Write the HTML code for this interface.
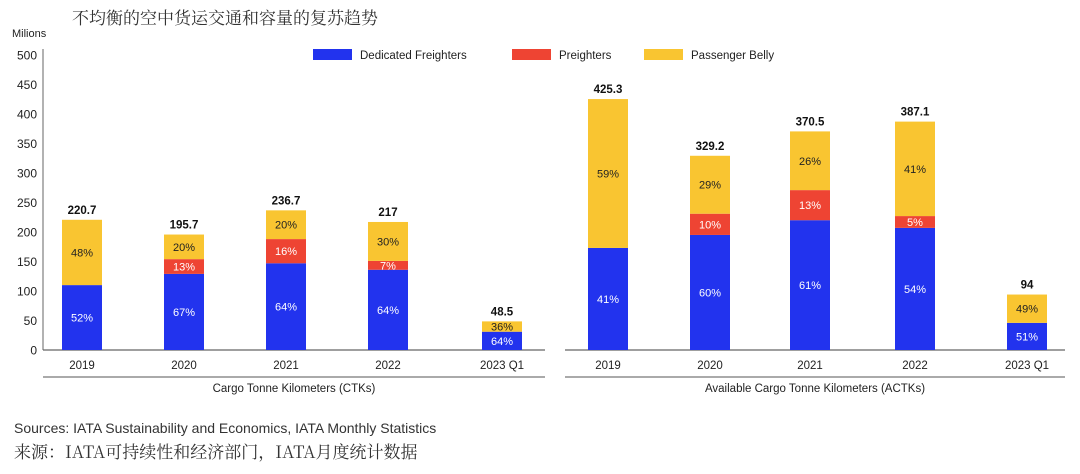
<!DOCTYPE html>
<html><head><meta charset="utf-8">
<style>
body{margin:0;background:#fff;width:1080px;height:474px;overflow:hidden;position:relative;font-family:"Liberation Sans","Noto Sans CJK SC",sans-serif}
.t{position:absolute;white-space:nowrap}
</style></head><body>
<div class="t" style="left:72px;top:4px;font-size:17px;color:#333;font-family:'Noto Serif CJK SC','Noto Sans CJK SC',serif">不均衡的空中货运交通和容量的复苏趋势</div>
<div class="t" style="left:14px;top:420px;font-size:14px;color:#333">Sources: IATA Sustainability and Economics, IATA Monthly Statistics</div>
<div class="t" style="left:14px;top:438px;font-size:17px;color:#333;font-family:'Noto Serif CJK SC','Noto Sans CJK SC',serif">来源：IATA可持续性和经济部门，IATA月度统计数据</div>
<svg id="c" width="1080" height="474" style="position:absolute;left:0;top:0"></svg>
<script>
const categories=["2019","2020","2021","2022","2023 Q1"];
const ctkBlue=[110,129,147,136,31];
const ctkRed=[0,25,41,15,0];
const ctkTotal=[220.7,195.7,236.7,217,48.5];
const ctkTotalLabels=["220.7","195.7","236.7","217","48.5"];
const ctkPctBlue=["52%","67%","64%","64%","64%"];
const ctkPctRed=["","13%","16%","7%",""];
const ctkPctYellow=["48%","20%","20%","30%","36%"];
const actkBlue=[173,195,220,207,46];
const actkRed=[0,36,51,20,0];
const actkTotal=[425.3,329.2,370.5,387.1,94];
const actkTotalLabels=["425.3","329.2","370.5","387.1","94"];
const actkPctBlue=["41%","60%","61%","54%","51%"];
const actkPctRed=["","10%","13%","5%",""];
const actkPctYellow=["59%","29%","26%","41%","49%"];
const yTicks=[0,50,100,150,200,250,300,350,400,450,500];

const svg=document.getElementById('c');const NS='http://www.w3.org/2000/svg';
function el(tag,attrs,parent){const e=document.createElementNS(NS,tag);for(const k in attrs)e.setAttribute(k,attrs[k]);(parent||svg).appendChild(e);return e;}
const y0=350,yTop=55;
function y(v){return y0-(v/500)*(y0-yTop);}
const BLUE="#2233ee",RED="#ee4433",YEL="#f9c531";
// y axis
for(const t of yTicks){const tx=el('text',{x:37,y:y(t)+4.5,'text-anchor':'end','font-size':12,fill:'#222'});tx.textContent=t;

}
const yl=el('text',{x:12,y:37,'font-size':11,fill:'#222'});yl.textContent='Milions';


const ya=el('line',{x1:43,y1:y(500)-6,x2:43,y2:y0,stroke:'#666','stroke-width':1});



function panel(x0,x1,centers,blue,red,total,tl,pb,pr,py,title,name){
  const base=el('line',{x1:x0,y1:y0,x2:x1,y2:y0,stroke:'#666','stroke-width':1.2});
  
  
  const sep=el('line',{x1:x0,y1:377,x2:x1,y2:377,stroke:'#777','stroke-width':1.2});
  
  
  const tt=el('text',{x:(x0+x1)/2,y:392,'text-anchor':'middle','font-size':11.5,fill:'#222'});tt.textContent=title;
  
  
  const w=40;
  categories.forEach((c,i)=>{
    const cx=centers[i],bx=cx-w/2;
    const yb=y(blue[i]),yr=y(blue[i]+red[i]),yt=y(total[i]);
    const r1=el('rect',{x:bx,y:yb,width:w,height:y0-yb,fill:BLUE});
    
    
    if(red[i]>0){const r2=el('rect',{x:bx,y:yr,width:w,height:yb-yr,fill:RED});
    
    }
    const r3=el('rect',{x:bx,y:yt,width:w,height:yr-yt,fill:YEL});
    
    
    const lb=el('text',{x:cx,y:(yb+y0)/2+4,'text-anchor':'middle','font-size':11,fill:'#fff'});lb.textContent=pb[i];
    
    
    if(pr[i]){const lr=el('text',{x:cx,y:(yr+yb)/2+4,'text-anchor':'middle','font-size':11,fill:'#fff'});lr.textContent=pr[i];
    
    }
    const ly=el('text',{x:cx,y:(yt+yr)/2+4,'text-anchor':'middle','font-size':11,fill:'#222'});ly.textContent=py[i];
    
    
    const tv=el('text',{x:cx,y:yt-6,'text-anchor':'middle','font-size':11.5,'font-weight':'bold',fill:'#111'});tv.textContent=tl[i];
    
    
    const xl=el('text',{x:cx,y:369,'text-anchor':'middle','font-size':11.5,fill:'#222'});xl.textContent=c;
    
    
  });
}
panel(43,545,[82,184,286,388,502],ctkBlue,ctkRed,ctkTotal,ctkTotalLabels,ctkPctBlue,ctkPctRed,ctkPctYellow,'Cargo Tonne Kilometers (CTKs)','ctk');
panel(565,1065,[608,710,810,915,1027],actkBlue,actkRed,actkTotal,actkTotalLabels,actkPctBlue,actkPctRed,actkPctYellow,'Available Cargo Tonne Kilometers (ACTKs)','actk');
// legend
[[313,BLUE,'Dedicated Freighters','legend-dedicated'],[512,RED,'Preighters','legend-preighters'],[644,YEL,'Passenger Belly','legend-belly']].forEach(l=>{
  const r=el('rect',{x:l[0],y:49,width:39,height:11,fill:l[1]});
  
  
  const t=el('text',{x:l[0]+47,y:59,'font-size':11.5,fill:'#222'});t.textContent=l[2];
  
  
});
</script>
</body></html>
